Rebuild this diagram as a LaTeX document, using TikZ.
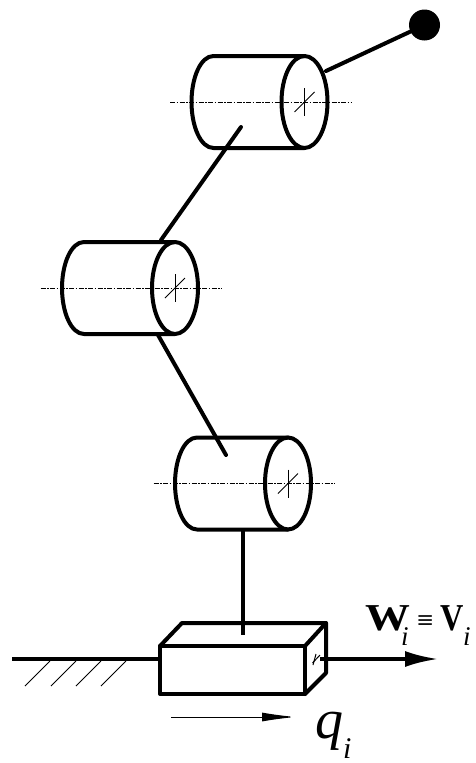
\documentclass[tikz,border=0pt]{standalone}
\usepackage{fontspec}
\setmainfont{Liberation Serif}
\usetikzlibrary{arrows.meta}
\tikzset{
  thick line/.style={line width=4pt,line cap=round,line join=round},
  thin line/.style={line width=1pt},
  axis line/.style={line width=0.9pt,dash pattern=on 5pt off 1.5pt on 1.5pt off 1.5pt},
  big arrow/.style={-{Latex[length=33pt,width=16pt]},line width=3.5pt},
  small arrow/.style={-{Latex[length=34pt,width=9pt]},line width=1pt},
  label text/.style={inner sep=0pt,outer sep=0pt,anchor=base west}
}
\newcommand{\cyl}[3]{%
  \begin{scope}[shift={(#1,#2)}]
    \coordinate (#3top) at (0,-46);
    \coordinate (#3bot) at (0,46);
    \draw[axis line] (-134.5,0) -- (46.5,0);
    \draw[thick line] (#3top) -- (-91,-46) .. controls (-104,-46) and (-113,-24) .. (-113,0)
      .. controls (-113,24) and (-104,46) .. (-91,46) -- (#3bot);
    \draw[thick line] (0,0) ellipse [x radius=23, y radius=46];
    \draw[thin line] (0,-14) -- (0,14);
    \draw[thin line] (-10,10) -- (10,-10);
  \end{scope}}
\begin{document}
\begin{tikzpicture}[x=1pt,y=-1pt]
\useasboundingbox (0,0) rectangle (475,763);
\fill[white] (0,0) rectangle (475,763);
% cylinders
\cyl{304.5}{102}{a}
\cyl{175}{288}{b}
\cyl{288}{483.5}{c}
% end ball and links
\node[circle,fill=black,draw=none,minimum size=31pt,inner sep=0pt] (ball) at (424.5,25) {};
\coordinate (l1s) at (326,71);
\draw[thick line] (l1s) -- (ball);
\coordinate (l2s) at (241,127);
\coordinate (l2e) at (161,240);
\draw[thick line] (l2s) -- (l2e);
\coordinate (l3s) at (158,335);
\coordinate (l3e) at (226,455);
\draw[thick line] (l3s) -- (l3e);
\coordinate (l4s) at (243,531);
\coordinate (l4e) at (243,635);
\draw[line width=4pt] (l4s) -- (l4e);
% box
\coordinate (fa) at (160,646);
\coordinate (fb) at (305,646);
\coordinate (fc) at (305,694);
\coordinate (fd) at (160,694);
\coordinate (ta) at (182,623);
\coordinate (tb) at (326,623);
\coordinate (tc) at (326,673);
\draw[thick line] (fa) -- (fb) -- (fc) -- (fd) -- cycle;
\draw[thick line] (fa) -- (ta) -- (tb) -- (fb);
\draw[thick line] (tb) -- (tc) -- (fc);
% rod and arrow
\coordinate (rs) at (12,659);
\coordinate (re) at (160,659);
\draw[line width=3.5pt] (rs) -- (re);
\coordinate (as) at (320,659);
\coordinate (ae) at (438,659);
\draw[big arrow] (as) -- (ae);
\draw[thin line] (316,654) -- (313,665);
\draw[thin line] (312.5,663) -- (320,655);
% hatching
\foreach \x in {50,76,101,126}{
  \draw[thin line] (\x,661) -- (\x-25,686);
}
% q arrow
\coordinate (qs) at (171,717);
\coordinate (qe) at (296,717);
\draw[small arrow] (qs) -- (qe);
% labels
\node[label text,xscale=1.18] (w) at (365,630) {\fontsize{38}{38}\selectfont\bfseries W};
\node[label text] (wi) at (401,645) {\fontsize{27}{27}\selectfont\itshape i};
\node[label text,xscale=1.2] (eq) at (417,628) {\fontsize{24}{24}\selectfont\bfseries ≡};
\node[label text,xscale=0.85] (v) at (440,630) {\fontsize{38}{38}\selectfont\bfseries V};
\node[label text] (vi) at (463,645) {\fontsize{27}{27}\selectfont\itshape i};
\node[label text] (q) at (315,738) {\fontsize{56}{56}\selectfont\itshape q};
\node[label text] (qi) at (343,758) {\fontsize{30}{30}\selectfont\itshape i};
\end{tikzpicture}
\end{document}
